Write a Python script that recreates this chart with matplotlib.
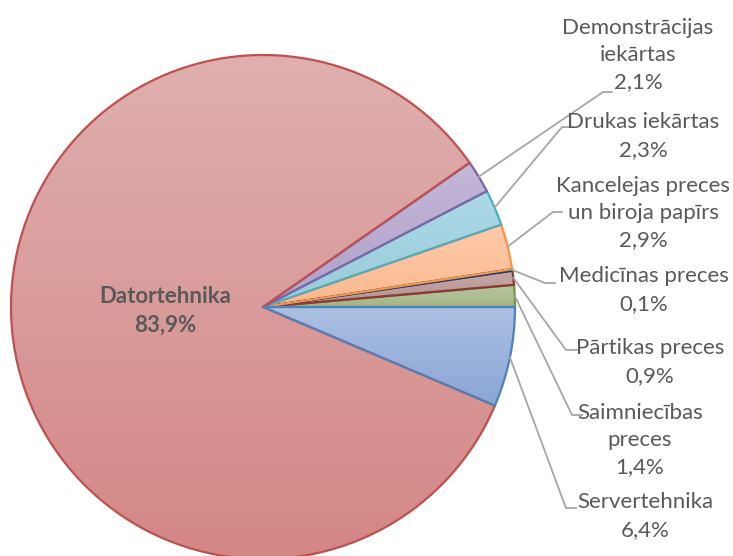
import numpy as np
import matplotlib
matplotlib.use("Agg")
import matplotlib.pyplot as plt
from matplotlib.colors import LinearSegmentedColormap

plt.rcParams['font.family'] = ['Lato', 'DejaVu Sans']

# slices counter-clockwise from 3 o'clock
labels = ['Saimniecības\npreces', 'Pārtikas preces', 'Medicīnas preces',
          'Kancelejas preces\nun biroja papīrs', 'Drukas iekārtas',
          'Demonstrācijas\niekārtas', 'Datortehnika', 'Servertehnika']
values = [1.4, 0.9, 0.1, 2.9, 2.3, 2.1, 83.9, 6.4]
pct_text = ['1,4%', '0,9%', '0,1%', '2,9%', '2,3%', '2,1%', '83,9%', '6,4%']

edge_cols = ['#77933c', '#8c3836', '#1f3f6e', '#f79646', '#4bacc6',
             '#8064a2', '#c0504d', '#4f81bd']
fill_top = ['#b9c8a0', '#c6a8a8', '#7f93b5', '#fdcaa9', '#aed9e6',
            '#c3b8d8', '#dfb0af', '#abc0e2']
fill_bot = ['#a3b585', '#b79090', '#6a80a8', '#fbb98f', '#97cbdc',
            '#afa1c8', '#d38786', '#8aa5d6']

W, H = 733, 556
cx, cy, R = 263, H - 307, 252

fig = plt.figure(figsize=(W / 100, H / 100), dpi=100)
ax = fig.add_axes([0, 0, 1, 1])

wedges, _ = ax.pie(values, startangle=0, counterclock=True, radius=R,
                   center=(cx, cy), frame=True,
                   wedgeprops=dict(linewidth=1.6))
ax.set_aspect('equal')
ax.set_xlim(0, W)
ax.set_ylim(0, H)
ax.axis('off')

grad = np.linspace(0, 1, 256).reshape(-1, 1)
for i, w in enumerate(wedges):
    w.set_facecolor('none')
    w.set_edgecolor(edge_cols[i])
    w.set_zorder(3)
    t1, t2 = np.radians(w.theta1), np.radians(w.theta2)
    ang = np.linspace(t1, t2, 50)
    xs = np.r_[cx, cx + R * np.cos(ang)]
    ys = np.r_[cy, cy + R * np.sin(ang)]
    cmap = LinearSegmentedColormap.from_list('g%d' % i, [fill_bot[i], fill_top[i]])
    im = ax.imshow(grad, cmap=cmap, origin='lower', aspect='auto',
                   extent=[xs.min(), xs.max(), ys.min(), ys.max()], zorder=2)
    im.set_clip_path(w)

ax.set_aspect('equal')
ax.set_xlim(0, W)
ax.set_ylim(0, H)

txt_col = '#595959'
line_col = '#a6a6a6'
fs = 16
lsp = 1.45

# label text centre, elbow point, end of horizontal leader (pixel coords, y down)
text_pos = [(640, 440), (650, 362), (644, 290), (643, 213), (643, 136),
            (638, 55), None, (645, 516)]
elbow = [(572, 415), (566, 350), (545, 283), (553, 212), (562, 127),
         (603, 92), None, (566, 508)]
elbow_end = [(582, 415), (578, 350), (555, 283), (562, 212), (572, 127),
             (612, 92), None, (576, 508)]

for i, w in enumerate(wedges):
    if text_pos[i] is None:
        continue
    mid = np.radians((w.theta1 + w.theta2) / 2)
    sx, sy = cx + R * np.cos(mid), cy + R * np.sin(mid)
    ex, ey = elbow[i]
    hx, hy = elbow_end[i]
    ax.plot([sx, ex, hx], [sy, H - ey, H - hy], color=line_col, lw=1.3, zorder=4,
            solid_joinstyle='miter')
    tx, ty = text_pos[i]
    ax.text(tx, H - ty, labels[i] + '\n' + pct_text[i], ha='center', va='center',
            fontsize=fs, color=txt_col, linespacing=lsp, zorder=5)

ax.text(165, H - 311, labels[6] + '\n' + pct_text[6], ha='center', va='center',
        fontsize=fs, color=txt_col, fontweight='bold', linespacing=lsp, zorder=5)

fig.savefig('out.png', dpi=100, facecolor='white')
